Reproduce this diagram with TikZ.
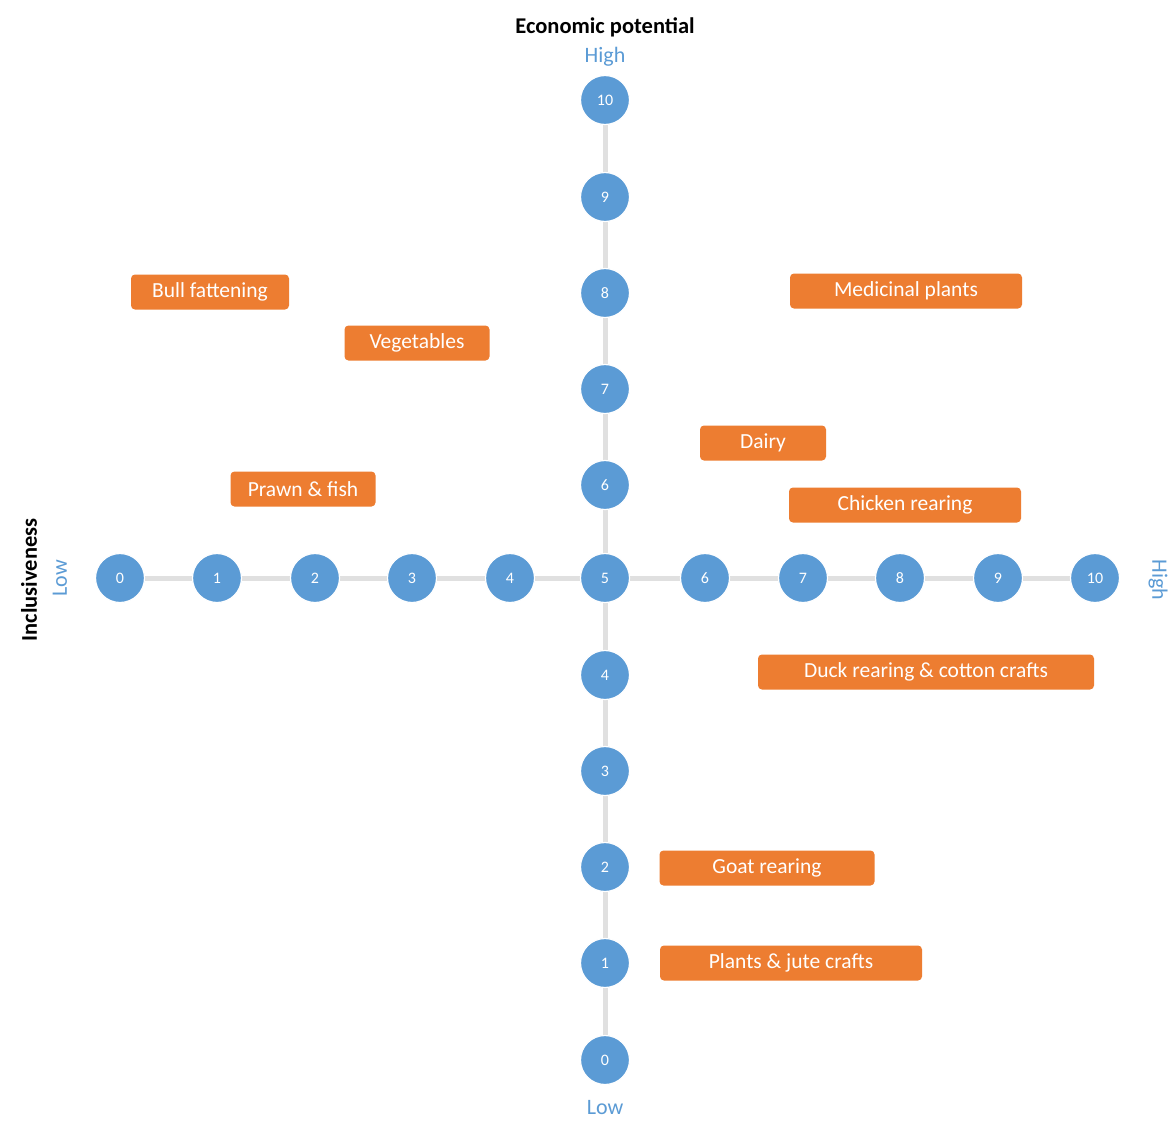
\documentclass[tikz,border=0pt]{standalone}
\usepackage{fontspec}
\setmainfont{Carlito}
\definecolor{dotblue}{HTML}{5B9BD5}
\definecolor{tagorange}{HTML}{ED7D31}
\definecolor{axisgray}{HTML}{E0E0E0}
\begin{document}
\begin{tikzpicture}[x=1pt,y=-1pt,
  dot/.style={circle,fill=dotblue,draw=white,line width=1.2pt,minimum size=49pt,inner sep=0pt,
    text=white,font=\fontsize{16}{16}\selectfont},
  tag/.style={rounded corners=4pt,fill=tagorange,text=white,minimum height=35pt,inner sep=0pt,
    font=\fontsize{21.5}{21.5}\selectfont},
  axis/.style={draw=axisgray,line width=5pt},
  endlbl/.style={text=dotblue,font=\fontsize{22}{22}\selectfont,inner sep=0pt},
  title/.style={font=\bfseries\fontsize{22.5}{22.5}\selectfont,inner sep=0pt}]
\useasboundingbox[fill=white] (0,0) rectangle (1173,1122);

% horizontal scale: inclusiveness
\foreach \i/\x in {0/120,1/217,2/315,3/412,4/510,5/605,6/705,7/803,8/900,9/998,10/1095}
  \coordinate (ph\i) at (\x,578);
% vertical scale: economic potential
\foreach \i/\y in {10/100,9/197,8/293,7/389,6/485,4/675,3/771,2/867,1/963,0/1060}
  \coordinate (pv\i) at (605,\y);

\draw[axis] (ph0) -- (ph10);
\draw[axis] (pv10) -- (pv0);

\foreach \i in {0,...,10}
  \node[dot] (h\i) at (ph\i) {\i};
\foreach \i in {10,9,8,7,6,4,3,2,1,0}
  \node[dot] (v\i) at (pv\i) {\i};

% axis titles and ends
\node[title] (ytitle) at (605,27) {Economic potential};
\node[endlbl] (yhigh) at (605,57) {High};
\node[endlbl] (ylow) at (605,1108) {Low};
\node[title,rotate=90] (xtitle) at (29,580) {Inclusiveness};
\node[endlbl,rotate=90] (xlow) at (60,578) {Low};
\node[endlbl,rotate=-90] (xhigh) at (1158,580) {High};

% activities
\node[tag,minimum width=158pt] (bull) at (210,292) {Bull fattening};
\node[tag,minimum width=145pt] (veg) at (417,343) {Vegetables};
\node[tag,minimum width=145pt] (prawn) at (303,489) {Prawn \& fish};
\node[tag,minimum width=232pt] (med) at (906,291) {Medicinal plants};
\node[tag,minimum width=126pt] (dairy) at (763,443) {Dairy};
\node[tag,minimum width=232pt] (chicken) at (905,505) {Chicken rearing};
\node[tag,minimum width=336pt] (duck) at (926,672) {Duck rearing \& cotton crafts};
\node[tag,minimum width=215pt] (goat) at (767,868) {Goat rearing};
\node[tag,minimum width=262pt] (plants) at (791,963) {Plants \& jute crafts};
\end{tikzpicture}
\end{document}
